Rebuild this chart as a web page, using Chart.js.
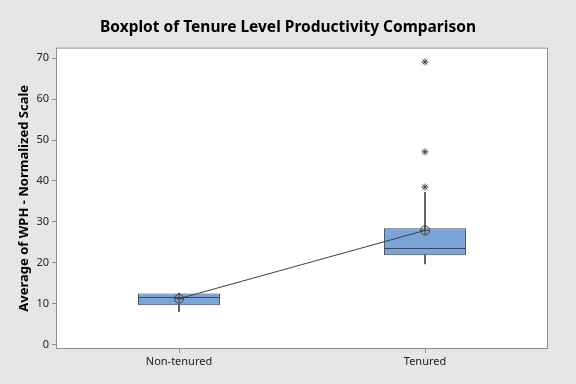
<!DOCTYPE html>
<html>
<head>
    <title>Boxplot of Tenure Level Productivity Comparison</title>
    <script src="https://cdn.jsdelivr.net/npm/chart.js"></script>
    <style>
        html, body { margin: 0; padding: 0; background: #e6e6e6; }
        #wrap { width: 576px; height: 384px; }
    </style>
</head>
<body>
    <div id="wrap"><canvas id="boxChart"></canvas></div>

    <script>
        // data
        const categories = ["Non-tenured", "Tenured"];
        const q1 = [9.6, 21.8];
        const q3 = [12.5, 28.4];
        const medians = [11.6, 23.5];
        const means = [11.2, 27.9];
        const whiskerLow = [8.0, 19.7];
        const whiskerHigh = [12.6, 37.2];
        const outliers = [[], [38.5, 47.1, 69.1]];
        const yTicks = [0, 10, 20, 30, 40, 50, 60, 70];

        const FONT = "'Noto Sans', 'Open Sans', sans-serif";
        const boxFill = "#7ba4d8";
        const boxLine = "#3d4757";
        const axisGray = "#8f8f8f";

        const outlierPoints = [];
        outliers.forEach((vals, i) => {
            vals.forEach(v => outlierPoints.push({ x: categories[i], y: v }));
        });

        // grey page, white plot area, frame around it
        const framePlugin = {
            id: "frame",
            beforeDraw(chart) {
                const { ctx, chartArea: a } = chart;
                ctx.save();
                ctx.fillStyle = "#e6e6e6";
                ctx.fillRect(0, 0, chart.width, chart.height);
                ctx.fillStyle = "#ffffff";
                ctx.fillRect(a.left, a.top, a.right - a.left, a.bottom - a.top);
                ctx.restore();
            },
            afterDraw(chart) {
                const { ctx, chartArea: a } = chart;
                ctx.save();
                ctx.strokeStyle = axisGray;
                ctx.lineWidth = 1;
                ctx.strokeRect(a.left + 0.5, a.top + 0.5, a.right - a.left - 1, a.bottom - a.top - 1);
                ctx.restore();
            }
        };

        // median line across each box
        const medianPlugin = {
            id: "medians",
            afterDatasetDraw(chart, args) {
                if (chart.data.datasets[args.index].label !== "box") return;
                const { ctx } = chart;
                const y = chart.scales.y;
                ctx.save();
                ctx.strokeStyle = boxLine;
                ctx.lineWidth = 1;
                args.meta.data.forEach((bar, i) => {
                    const py = Math.round(y.getPixelForValue(medians[i])) + 0.5;
                    ctx.beginPath();
                    ctx.moveTo(bar.x - bar.width / 2, py);
                    ctx.lineTo(bar.x + bar.width / 2, py);
                    ctx.stroke();
                });
                ctx.restore();
            }
        };

        new Chart(document.getElementById("boxChart"), {
            data: {
                labels: categories,
                datasets: [
                    {
                        type: "line",
                        label: "outliers",
                        data: outlierPoints,
                        showLine: false,
                        pointStyle: "star",
                        pointRadius: 3.5,
                        pointBorderColor: "#404040",
                        pointBorderWidth: 1,
                        order: 0
                    },
                    {
                        type: "line",
                        label: "mean",
                        data: means,
                        borderColor: "#404040",
                        borderWidth: 1,
                        pointStyle: "circle",
                        pointRadius: 4.5,
                        pointBackgroundColor: "rgba(0,0,0,0)",
                        pointBorderColor: "#404040",
                        pointBorderWidth: 1,
                        order: 1
                    },
                    {
                        type: "line",
                        label: "meanCross",
                        data: means,
                        showLine: false,
                        pointStyle: "cross",
                        pointRadius: 4.5,
                        pointBorderColor: "#404040",
                        pointBorderWidth: 1,
                        order: 1
                    },
                    {
                        type: "bar",
                        label: "box",
                        data: q1.map((v, i) => [v, q3[i]]),
                        backgroundColor: boxFill,
                        borderColor: boxLine,
                        borderWidth: 1,
                        borderSkipped: false,
                        grouped: false,
                        categoryPercentage: 1,
                        barPercentage: 0.333,
                        order: 2
                    },
                    {
                        type: "bar",
                        label: "whisker",
                        data: whiskerLow.map((v, i) => [v, whiskerHigh[i]]),
                        backgroundColor: "#454545",
                        borderWidth: 0,
                        grouped: false,
                        barThickness: 1,
                        order: 3
                    }
                ]
            },
            options: {
                responsive: true,
                maintainAspectRatio: false,
                animation: false,
                layout: { padding: 0 },
                plugins: {
                    legend: { display: false },
                    tooltip: { enabled: false },
                    title: {
                        display: true,
                        text: "Boxplot of Tenure Level Productivity Comparison",
                        color: "#000000",
                        font: { family: FONT, size: 15.5, weight: "bold" },
                        padding: { top: 18, bottom: 11 }
                    }
                },
                scales: {
                    x: {
                        type: "category",
                        offset: true,
                        grid: { display: true, offset: false, drawOnChartArea: false, tickLength: 4, color: axisGray },
                        border: { display: false },
                        ticks: { color: "#222222", font: { family: FONT, size: 11 }, padding: 2 },
                        afterFit(scale) { scale.height = 35; }
                    },
                    y: {
                        type: "linear",
                        min: -1.1,
                        max: 72.6,
                        grid: { display: true, drawOnChartArea: false, tickLength: 4, color: axisGray },
                        border: { display: false },
                        ticks: { color: "#222222", font: { family: FONT, size: 11 }, padding: 3 },
                        afterBuildTicks(scale) { scale.ticks = yTicks.map(v => ({ value: v })); },
                        title: {
                            display: true,
                            text: "Average of WPH - Normalized Scale",
                            color: "#000000",
                            font: { family: FONT, size: 13, weight: "bold" },
                            padding: { top: 16, bottom: 4 }
                        },
                        afterFit(scale) { scale.width = 56; }
                    },
                    // empty right-hand margin so the title stays centred on the page
                    yRight: {
                        type: "linear",
                        position: "right",
                        display: true,
                        grid: { display: false },
                        border: { display: false },
                        ticks: { display: false },
                        afterFit(scale) { scale.width = 28; }
                    }
                }
            },
            plugins: [framePlugin, medianPlugin]
        });
    </script>
</body>
</html>
